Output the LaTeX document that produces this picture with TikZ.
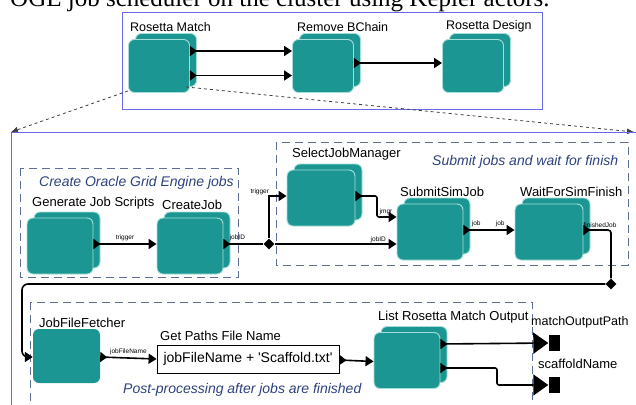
\documentclass[tikz,border=0pt]{standalone}
\usepackage{fontspec}
\setmainfont{Liberation Sans}
\newfontfamily\capfont{Liberation Serif}
\usetikzlibrary{arrows.meta,shapes.geometric,shadows,positioning}
\definecolor{actorteal}{RGB}{27,150,146}
\definecolor{actoredge}{RGB}{165,222,216}
\definecolor{frameblue}{RGB}{105,105,230}
\definecolor{grpline}{RGB}{95,110,150}
\definecolor{grptext}{RGB}{45,65,125}

\begin{document}
\begin{tikzpicture}[x=1pt,y=-1pt,
  actor/.style={rectangle,rounded corners=6pt,fill=actorteal,draw=actoredge,line width=0.9pt,minimum width=66pt,minimum height=56pt,inner sep=0pt,copy shadow={shadow xshift=7pt,shadow yshift=6pt,fill=actorteal,draw=actoredge}},
  topactor/.style={actor,minimum width=61pt,minimum height=53pt},
  single/.style={rectangle,rounded corners=6pt,fill=actorteal,minimum width=67pt,minimum height=54pt,inner sep=0pt},
  lbl/.style={font=\fontsize{13}{15}\selectfont,anchor=base west,inner sep=0pt},
  toplbl/.style={font=\fontsize{12.5}{14}\selectfont,anchor=base west,inner sep=0pt},
  port/.style={font=\fontsize{6.5}{7}\selectfont,inner sep=0pt,anchor=base west},
  grp/.style={draw=grpline,dash pattern=on 8pt off 5pt,line width=0.8pt},
  grptitle/.style={font=\fontsize{14}{16}\selectfont\itshape,text=grptext,anchor=base west,inner sep=0pt},
  wire/.style={line width=1.6pt,{Triangle[reversed,length=7pt,width=10pt]}-{Triangle[length=8pt,width=10pt]}},
  wireout/.style={line width=1.6pt,{Triangle[reversed,length=7pt,width=10pt]}-},
  wirein/.style={line width=1.6pt,-{Triangle[length=8pt,width=10pt]}},
  wireport/.style={line width=1.6pt,{Triangle[reversed,length=7pt,width=10pt]}-{Triangle[length=15pt,width=21pt]}},
  relay/.style={diamond,fill=black,inner sep=0pt,minimum size=11pt},
  zoomline/.style={dashed,line width=0.8pt,draw=black!75,-{Latex[length=7pt,width=6pt]}},
  outport/.style={fill=black,inner sep=0pt,minimum width=11pt,minimum height=16pt}]
\useasboundingbox (0,0) rectangle (636,404);
\clip (0,0) rectangle (636,404);
\node[font=\capfont\fontsize{25}{28}\selectfont,anchor=base west,inner sep=0pt] (caption) at (10,7) {OGE job scheduler on the cluster using Kepler actors.};
\draw[frameblue,line width=0.8pt] (122,12) rectangle (542,109);
\node[topactor] (rm) at (159,66) {};
\node[topactor] (rbc) at (323,66) {};
\node[topactor] (rd) at (473,66) {};
\node[toplbl] (rmlbl) at (130,31) {Rosetta Match};
\node[toplbl] (rbclbl) at (297,31) {Remove BChain};
\node[toplbl] (rdlbl) at (446,30) {Rosetta Design};
\draw[wire] ([yshift=15pt]rm.east) -- ([yshift=15pt]rbc.west);
\draw[wire] ([yshift=-9.5pt]rm.east) -- ([yshift=-9.5pt]rbc.west);
\draw[wire] ([yshift=3pt]rbc.east) -- ([yshift=3pt]rd.west);
\coordinate (bignw) at (11,132);
\coordinate (bigne) at (634,132);
\draw[zoomline] ([yshift=2pt]rm.south west) -- (bignw);
\draw[zoomline] ([xshift=-4pt,yshift=6pt]rm.south east) -- (bigne);
\draw[frameblue,line width=0.8pt] (11,132) rectangle (660,420);
\draw[grp] (20,168) rectangle (238,277);
\node[grptitle] (t1) at (39,186) {Create Oracle Grid Engine jobs};
\node[actor] (gjs) at (60,246) {};
\node[actor] (cj) at (190,246) {};
\node[lbl] (gjslbl) at (32,206) {Generate Job Scripts};
\node[lbl] (cjlbl) at (162,209) {CreateJob};
\draw[wire] ([yshift=2pt]gjs.east) -- node[port,anchor=south,yshift=2pt] {trigger} ([yshift=2pt]cj.west);
\node[relay] (d1) at (269,244) {};
\draw[wireout] ([yshift=2pt]cj.east) -- node[port,anchor=south,yshift=2pt,xshift=-6pt] {jobID} (d1);
\draw[grp] (276,142) rectangle (628,265);
\node[grptitle] (t2) at (432,165) {Submit jobs and wait for finish};
\node[actor,minimum width=68pt] (sjm) at (321,198) {};
\node[actor] (ssj) at (430,232) {};
\node[actor,minimum width=68pt] (wfs) at (549,232) {};
\node[lbl] (sjmlbl) at (292,157) {SelectJobManager};
\node[lbl] (ssjlbl) at (400,196) {SubmitSimJob};
\node[lbl] (wfslbl) at (520,196) {WaitForSimFinish};
\draw[wirein] (d1) |- node[port,pos=0.55,anchor=south east,xshift=-1pt] {trigger} ([yshift=2pt]sjm.west);
\draw[wirein] (d1) -- node[port,pos=0.85,anchor=south] {jobID} ([yshift=-12pt]ssj.west);
\draw[wire,rounded corners=2pt] ([yshift=2pt]sjm.east) -| (377,217) -- node[port,pos=0.1,anchor=south west,yshift=1pt] {jmgr} ([yshift=15pt]ssj.west);
\draw[wire] ([yshift=2pt]ssj.east) -- node[port,pos=0.25,anchor=south,yshift=2pt] {job} node[port,pos=0.72,anchor=south,yshift=2pt] {job} ([yshift=2pt]wfs.west);
\node[relay] (d2) at (611,284) {};
\draw[wireout,rounded corners=3pt] ([yshift=2pt]wfs.east) -| node[port,pos=0.3,anchor=south,yshift=2pt] {finishedJob} (d2);
\draw[grp] (30,302) rectangle (532,412);
\node[grptitle] (t3) at (123,393) {Post-processing after jobs are finished};
\node[single] (jff) at (66.5,356) {};
\node[lbl] (jfflbl) at (39,327) {JobFileFetcher};
\draw[wirein,rounded corners=6pt] (d2) -- (22,284) |- ([yshift=-1pt]jff.west);
\node[draw,line width=0.8pt,minimum width=182pt,minimum height=28pt,inner sep=2pt,font=\fontsize{14}{16}\selectfont] (gp) at (248,359) {jobFileName + \textquotesingle Scaffold.txt\textquotesingle};
\node[lbl] (gplbl) at (160,340) {Get Paths File Name};
\draw[wire] ([yshift=-1pt]jff.east) -- node[port,anchor=south,yshift=2pt] {jobFileName} (gp.west);
\node[actor] (lrm) at (407,360.5) {};
\node[lbl] (lrmlbl) at (378,320) {List Rosetta Match Output};
\draw[wire] ([yshift=-1pt]gp.east) -- ([yshift=-1pt]lrm.west);
\node[outport] (mop) at (554,343) {};
\node[outport] (sn) at (554,385) {};
\node[lbl,font=\fontsize{12.5}{14}\selectfont] (moplbl) at (531,325) {matchOutputPath};
\node[lbl] (snlbl) at (538,368) {scaffoldName};
\draw[wireport] ([yshift=16.5pt]lrm.east) -- (mop.west);
\draw[wireport,rounded corners=2pt] ([yshift=-7.5pt]lrm.east) -| (497,385) -- (sn.west);
\end{tikzpicture}
\end{document}
